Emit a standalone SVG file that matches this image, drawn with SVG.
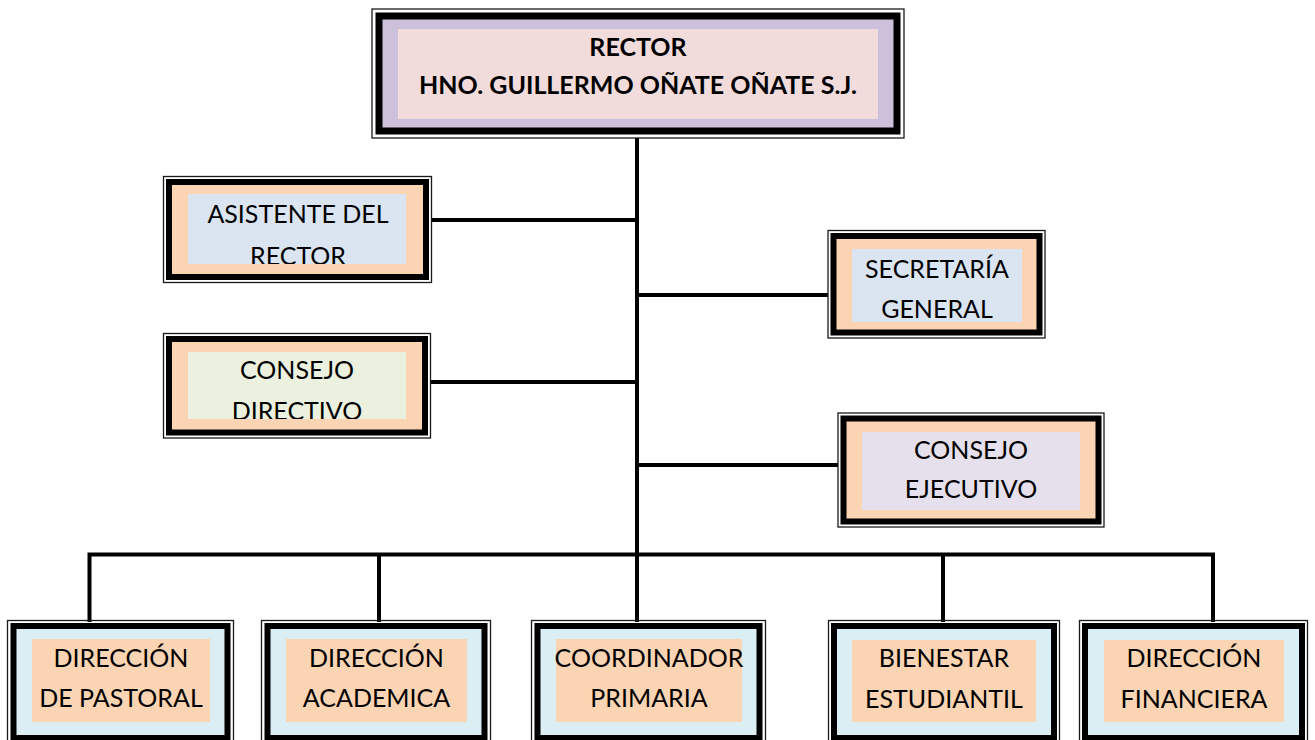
<svg xmlns="http://www.w3.org/2000/svg" width="1315" height="740" viewBox="0 0 1315 740">
<style>
.thin{fill:none;stroke:#1a1a1a;stroke-width:1.3}
.thick{stroke:#000;stroke-width:6}
.peach{fill:#FBD4B4}
.lblue{fill:#DAEEF3}
.t{font-family:Lato,"Open Sans",sans-serif;font-size:25px;fill:#000;text-anchor:middle}
.tb{font-family:Lato,"Open Sans",sans-serif;font-size:25px;font-weight:bold;fill:#000;text-anchor:middle}
.ln{stroke:#000;stroke-width:4;fill:none}
</style>
<defs>
<clipPath id="cA"><rect x="188" y="194" width="218" height="70"/></clipPath>
<clipPath id="cD"><rect x="188" y="352" width="218" height="67"/></clipPath>
</defs>
<rect width="1315" height="740" fill="#fff"/>
<g id="connectors">
<path class="ln" d="M637 138V622"/>
<path class="ln" d="M431 220H637"/>
<path class="ln" d="M637 295H828"/>
<path class="ln" d="M430 382H637"/>
<path class="ln" d="M637 465H838"/>
<path class="ln" d="M89.5 622V554.5H1213V622"/>
<path class="ln" d="M379 554.5V622"/>
<path class="ln" d="M943 554.5V622"/>
</g>
<g id="rector">
<rect class="thin" x="372" y="9" width="532" height="129"/>
<rect x="379" y="16" width="518" height="115" fill="#CCC0DA" stroke="#000" stroke-width="7"/>
<rect x="398" y="29" width="480" height="90" fill="#F2DCDB"/>
<text class="tb" x="638" y="56">RECTOR</text>
<text class="tb" x="638" y="94">HNO. GUILLERMO OÑATE OÑATE S.J.</text>
</g>
<g id="asistente">
<rect class="thin" x="163.5" y="176.5" width="268" height="106"/>
<rect class="peach thick" x="169" y="182" width="257" height="95"/>
<rect x="188" y="194" width="218" height="70" fill="#DBE5F1"/>
<g clip-path="url(#cA)"><text class="t" x="298" y="223">ASISTENTE DEL</text><text class="t" x="298" y="265">RECTOR</text></g>
</g>
<g id="secretaria">
<rect class="thin" x="828" y="230.5" width="217" height="107.5"/>
<rect class="peach thick" x="833.5" y="236" width="206" height="96.5"/>
<rect x="852" y="249" width="170" height="73" fill="#DBE5F1"/>
<text class="t" x="937" y="278">SECRETARÍA</text>
<text class="t" x="937" y="318">GENERAL</text>
</g>
<g id="consejo-directivo">
<rect class="thin" x="163.5" y="333.5" width="267" height="104.5"/>
<rect class="peach thick" x="169" y="339" width="256" height="93.5"/>
<rect x="188" y="352" width="218" height="67" fill="#EBF1DE"/>
<g clip-path="url(#cD)"><text class="t" x="297" y="379">CONSEJO</text><text class="t" x="297" y="420">DIRECTIVO</text></g>
</g>
<g id="consejo-ejecutivo">
<rect class="thin" x="838" y="413" width="266" height="114"/>
<rect class="peach thick" x="843.5" y="418.5" width="255" height="103"/>
<rect x="862" y="432" width="218" height="78" fill="#E5E0EC"/>
<text class="t" x="971" y="459">CONSEJO</text>
<text class="t" x="971" y="498">EJECUTIVO</text>
</g>
<g id="dir-pastoral">
<rect class="thin" x="7.5" y="620.5" width="226" height="123"/>
<rect class="lblue thick" x="13.5" y="626" width="214" height="112"/>
<rect x="32" y="639" width="178" height="83" class="peach"/>
<text class="t" x="121" y="667">DIRECCIÓN</text>
<text class="t" x="121" y="707">DE PASTORAL</text>
</g>
<g id="dir-academica">
<rect class="thin" x="261.5" y="620.5" width="229" height="123"/>
<rect class="lblue thick" x="267.5" y="626" width="217" height="112"/>
<rect x="286" y="639" width="181" height="83" class="peach"/>
<text class="t" x="376.5" y="667">DIRECCIÓN</text>
<text class="t" x="376.5" y="707">ACADEMICA</text>
</g>
<g id="coordinador-primaria">
<rect class="thin" x="531.5" y="620.5" width="234" height="123"/>
<rect class="lblue thick" x="537.5" y="626" width="222" height="112"/>
<rect x="556" y="639" width="186" height="83" class="peach"/>
<text class="t" x="649" y="667">COORDINADOR</text>
<text class="t" x="649" y="707">PRIMARIA</text>
</g>
<g id="bienestar">
<rect class="thin" x="828.5" y="620.5" width="231" height="123"/>
<rect class="lblue thick" x="834" y="626" width="220" height="112"/>
<rect x="852" y="640" width="184" height="82" class="peach"/>
<text class="t" x="944" y="667">BIENESTAR</text>
<text class="t" x="944" y="708">ESTUDIANTIL</text>
</g>
<g id="dir-financiera">
<rect class="thin" x="1079.5" y="620.5" width="228" height="123"/>
<rect class="lblue thick" x="1085" y="626" width="217" height="112"/>
<rect x="1104" y="640" width="180" height="82" class="peach"/>
<text class="t" x="1194" y="667">DIRECCIÓN</text>
<text class="t" x="1194" y="708">FINANCIERA</text>
</g>
</svg>
